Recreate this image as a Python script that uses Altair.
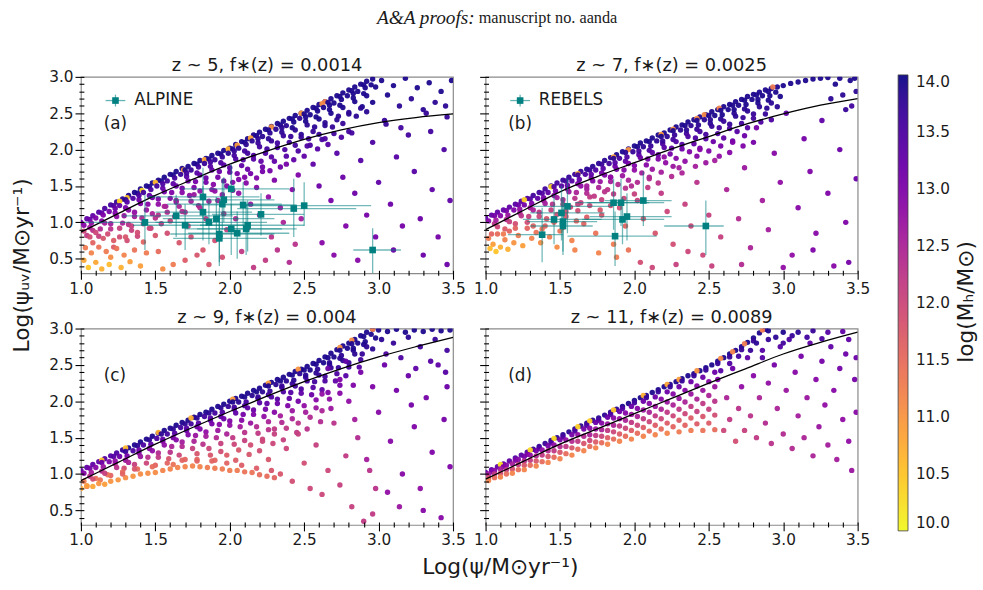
import altair as alt
import pandas as pd

FONT = "DejaVu Sans"
SERIF = "Liberation Serif"
TEAL = "#008080"

X_DOMAIN = [1.0, 3.5]
Y_DOMAIN = [0.3, 3.0]
X_TICKS = [round(1.0 + 0.1 * i, 1) for i in range(26)]
Y_TICKS = [round(0.4 + 0.1 * i, 1) for i in range(27)]
CBAR_TICKS = [10.0, 10.5, 11.0, 11.5, 12.0, 12.5, 13.0, 13.5, 14.0]

PANEL_TITLES = ["z ~ 5, f\u2217(z) = 0.0014", "z ~ 7, f\u2217(z) = 0.0025",
                "z ~ 9, f\u2217(z) = 0.004", "z ~ 11, f\u2217(z) = 0.0089"]
PANEL_LABELS = ["(a)", "(b)", "(c)", "(d)"]
X_TITLE = "Log(\u03c8/M\u2299yr\u207b\u00b9)"
Y_TITLE = "Log(\u03c8\u1d64\u1d65/M\u2299yr\u207b\u00b9)"
CBAR_TITLE = "log(M\u2095/M\u2299)"

# model relation (black curve) in each redshift bin
CURVE_X = [1.0, 1.25, 1.5, 1.75, 2.0, 2.25, 2.5, 2.75, 3.0, 3.25, 3.5]
CURVE_A = [0.865, 1.12, 1.37, 1.59, 1.80, 1.98, 2.14, 2.27, 2.37, 2.44, 2.49]
CURVE_B = [0.90, 1.16, 1.42, 1.63, 1.82, 2.01, 2.18, 2.35, 2.49, 2.61, 2.70]
CURVE_C = [0.91, 1.16, 1.41, 1.64, 1.86, 2.07, 2.27, 2.45, 2.61, 2.75, 2.88]
CURVE_D = [0.93, 1.17, 1.41, 1.62, 1.83, 2.04, 2.25, 2.45, 2.65, 2.81, 2.95]

# simulated galaxies: (log SFR, log SFR_UV, log Mh)
A_EDGE = [
    (1.00, 1.00, 13.2), (1.04, 1.05, 13.3), (1.08, 1.09, 13.3), (1.12, 1.14, 13.4), (1.16, 1.19, 13.5),
    (1.20, 1.24, 13.6), (1.24, 1.28, 13.7), (1.28, 1.32, 13.8), (1.32, 1.37, 13.9), (1.36, 1.41, 13.9),
    (1.40, 1.46, 13.9), (1.44, 1.50, 13.9), (1.48, 1.54, 13.9), (1.52, 1.58, 13.9), (1.56, 1.62, 13.9),
    (1.60, 1.66, 13.9), (1.64, 1.70, 13.9), (1.68, 1.74, 13.9), (1.72, 1.77, 13.9), (1.76, 1.81, 13.9),
    (1.80, 1.85, 13.9), (1.84, 1.88, 13.9), (1.88, 1.92, 13.9), (1.92, 1.95, 13.9), (1.96, 1.99, 13.9),
    (2.00, 2.02, 13.9), (2.04, 2.07, 13.9), (2.08, 2.11, 13.9), (2.12, 2.15, 13.9), (2.16, 2.20, 13.9),
    (2.20, 2.24, 13.9), (2.24, 2.28, 13.9), (2.28, 2.32, 13.9), (2.32, 2.36, 13.9), (2.36, 2.39, 13.9),
    (2.40, 2.43, 13.9), (2.44, 2.47, 13.9), (2.48, 2.50, 13.9), (2.52, 2.54, 13.9), (2.56, 2.58, 13.9),
    (2.60, 2.62, 13.9), (2.64, 2.66, 13.9), (2.68, 2.70, 13.9), (2.72, 2.74, 13.9), (2.76, 2.78, 13.9),
    (2.80, 2.82, 13.9), (2.84, 2.86, 13.9), (2.88, 2.90, 13.9), (2.92, 2.94, 13.9), (2.96, 2.97, 13.9),
    (1.26, 1.29, 10.4), (1.31, 1.34, 10.5), (1.41, 1.44, 10.3), (1.50, 1.55, 10.6), (1.69, 1.72, 10.9),
    (1.83, 1.86, 10.8), (1.99, 2.01, 10.7), (2.05, 2.06, 10.9), (2.14, 2.16, 10.8), (2.28, 2.31, 11.0),
    (2.48, 2.50, 10.9), (2.62, 2.63, 11.1), (2.64, 2.66, 11.2),
]
A_BAND = [
    (1.02, 0.96, 12.9), (1.10, 1.06, 13.0), (1.19, 1.15, 13.1), (1.26, 1.23, 13.3), (1.35, 1.33, 13.5),
    (1.42, 1.41, 13.6), (1.51, 1.50, 13.6), (1.58, 1.57, 13.6), (1.67, 1.66, 13.7), (1.74, 1.72, 13.7),
    (1.83, 1.81, 13.7), (1.90, 1.86, 13.7), (1.99, 1.95, 13.8), (2.06, 2.02, 13.8), (2.15, 2.12, 13.8),
    (2.22, 2.18, 13.8), (2.31, 2.28, 13.8), (2.38, 2.33, 13.8), (2.47, 2.43, 13.8), (2.54, 2.48, 13.9),
    (2.63, 2.58, 13.9), (2.70, 2.64, 13.9), (2.79, 2.74, 13.9), (2.86, 2.80, 13.9), (2.95, 2.89, 13.9),
    (1.06, 0.93, 12.6), (1.14, 1.02, 12.9), (1.23, 1.13, 13.0), (1.30, 1.20, 13.1), (1.39, 1.31, 13.2),
    (1.46, 1.37, 13.3), (1.55, 1.47, 13.3), (1.62, 1.53, 13.3), (1.71, 1.63, 13.4), (1.78, 1.68, 13.4),
    (1.87, 1.77, 13.4), (1.94, 1.82, 13.5), (2.03, 1.92, 13.6), (2.10, 1.98, 13.6), (2.19, 2.09, 13.7),
    (2.26, 2.15, 13.8), (2.35, 2.24, 13.8), (2.42, 2.30, 13.9), (2.51, 2.39, 13.9), (2.58, 2.45, 13.9),
    (2.67, 2.55, 13.9), (2.74, 2.61, 13.9), (2.83, 2.71, 13.9), (2.90, 2.77, 13.9), (2.98, 2.86, 13.9),
    (1.04, 0.82, 12.2), (1.13, 0.91, 12.4), (1.20, 0.98, 12.6), (1.29, 1.09, 12.7), (1.36, 1.14, 12.8),
    (1.45, 1.25, 12.9), (1.52, 1.32, 13.0), (1.61, 1.41, 13.0), (1.68, 1.47, 13.1), (1.77, 1.56, 13.1),
    (1.84, 1.61, 13.2), (1.93, 1.70, 13.2), (2.00, 1.75, 13.3), (2.09, 1.86, 13.4), (2.16, 1.92, 13.5),
    (2.25, 2.01, 13.6), (2.32, 2.09, 13.6), (2.41, 2.18, 13.7), (2.48, 2.21, 13.8), (2.57, 2.31, 13.8),
    (2.64, 2.37, 13.8), (2.73, 2.46, 13.8), (2.80, 2.51, 13.8), (2.89, 2.59, 13.9), (2.96, 2.65, 13.9),
    (1.32, 0.97, 12.3), (1.41, 1.06, 12.4), (1.48, 1.12, 12.5), (1.57, 1.22, 12.6), (1.64, 1.28, 12.7),
    (1.73, 1.37, 12.8), (1.80, 1.43, 12.8), (1.89, 1.52, 12.9), (1.96, 1.57, 13.0), (2.05, 1.67, 13.1),
    (2.12, 1.73, 13.2), (2.21, 1.84, 13.3), (2.28, 1.90, 13.4), (2.37, 2.00, 13.5), (2.44, 2.06, 13.6),
    (2.53, 2.15, 13.6), (2.60, 2.21, 13.7), (2.69, 2.31, 13.7), (2.76, 2.36, 13.7), (2.85, 2.46, 13.8),
    (2.92, 2.52, 13.8),
    (1.22, 0.66, 11.7), (1.31, 0.75, 11.9), (1.38, 0.81, 12.0), (1.47, 0.92, 12.1), (1.54, 0.98, 12.2),
    (1.63, 1.08, 12.3), (1.70, 1.14, 12.4), (1.79, 1.23, 12.5), (1.86, 1.29, 12.6), (1.95, 1.38, 12.7),
    (2.02, 1.44, 12.8), (2.11, 1.54, 12.9), (2.18, 1.61, 13.0), (2.27, 1.71, 13.1), (2.34, 1.76, 13.2),
    (2.43, 1.86, 13.3), (2.50, 1.91, 13.3), (2.59, 2.01, 13.4), (2.66, 2.07, 13.4), (2.75, 2.17, 13.5),
    (2.82, 2.23, 13.6),
]
A_FILL = [
    (1.06, 1.04, 13.2), (1.14, 1.13, 13.3), (1.22, 1.23, 13.5), (1.30, 1.31, 13.8), (1.38, 1.40, 13.9),
    (1.46, 1.49, 13.9), (1.54, 1.57, 13.9), (1.62, 1.65, 13.9), (1.70, 1.72, 13.9), (1.78, 1.80, 13.9),
    (1.86, 1.87, 13.9), (1.94, 1.94, 13.9), (2.02, 2.01, 13.9), (2.10, 2.10, 13.9), (2.18, 2.19, 13.9),
    (2.26, 2.27, 13.9), (2.34, 2.34, 13.9), (2.42, 2.42, 13.9), (2.50, 2.49, 13.9), (2.58, 2.57, 13.9),
    (2.66, 2.65, 13.9), (2.74, 2.73, 13.9), (2.82, 2.81, 13.9), (2.90, 2.89, 13.9),
    (1.07, 0.99, 12.8), (1.15, 1.10, 13.0), (1.23, 1.19, 13.2), (1.31, 1.28, 13.4), (1.39, 1.37, 13.5),
    (1.47, 1.45, 13.5), (1.55, 1.53, 13.5), (1.63, 1.61, 13.6), (1.71, 1.68, 13.6), (1.79, 1.76, 13.6),
    (1.87, 1.83, 13.6), (1.95, 1.90, 13.7), (2.03, 1.98, 13.7), (2.11, 2.07, 13.8), (2.19, 2.15, 13.8),
    (2.27, 2.23, 13.8), (2.35, 2.30, 13.8), (2.43, 2.38, 13.9), (2.51, 2.45, 13.9), (2.59, 2.53, 13.9),
    (2.67, 2.61, 13.9), (2.75, 2.69, 13.9), (2.83, 2.77, 13.9), (2.91, 2.85, 13.9),
    (1.08, 0.89, 12.3), (1.16, 0.99, 12.6), (1.24, 1.08, 12.8), (1.32, 1.17, 12.9), (1.40, 1.26, 13.0),
    (1.48, 1.34, 13.1), (1.56, 1.42, 13.1), (1.64, 1.50, 13.2), (1.72, 1.57, 13.2), (1.80, 1.65, 13.3),
    (1.88, 1.72, 13.3), (1.96, 1.79, 13.4), (2.04, 1.87, 13.5), (2.12, 1.95, 13.6), (2.20, 2.04, 13.6),
    (2.28, 2.12, 13.7), (2.36, 2.19, 13.7), (2.44, 2.27, 13.8), (2.52, 2.34, 13.8), (2.60, 2.42, 13.9),
    (2.68, 2.50, 13.9), (2.76, 2.58, 13.9), (2.84, 2.66, 13.9), (2.92, 2.74, 13.9),
    (1.12, 0.81, 12.1), (1.20, 0.91, 12.3), (1.28, 0.99, 12.5), (1.36, 1.08, 12.6), (1.44, 1.17, 12.7),
    (1.52, 1.25, 12.8), (1.60, 1.33, 12.9), (1.68, 1.41, 12.9), (1.76, 1.48, 13.0), (1.84, 1.55, 13.1),
    (1.92, 1.62, 13.1), (2.00, 1.69, 13.2), (2.08, 1.78, 13.3), (2.16, 1.87, 13.4), (2.24, 1.95, 13.5),
    (2.32, 2.03, 13.6), (2.40, 2.10, 13.6), (2.48, 2.17, 13.7), (2.56, 2.25, 13.7), (2.64, 2.33, 13.8),
    (2.72, 2.41, 13.8), (2.80, 2.49, 13.8), (2.88, 2.57, 13.8),
    (1.26, 0.80, 11.9), (1.34, 0.89, 12.1), (1.42, 0.98, 12.2), (1.50, 1.06, 12.3), (1.58, 1.14, 12.4),
    (1.66, 1.22, 12.5), (1.74, 1.29, 12.6), (1.82, 1.36, 12.7), (1.90, 1.43, 12.8), (1.98, 1.50, 12.9),
    (2.06, 1.59, 13.0), (2.14, 1.67, 13.1), (2.22, 1.76, 13.2), (2.30, 1.84, 13.3), (2.38, 1.91, 13.4),
    (2.46, 1.98, 13.5), (2.54, 2.06, 13.5), (2.62, 2.14, 13.6), (2.70, 2.22, 13.6),
]
A_SPREAD = [
    (1.02, 0.88, 12.0), (1.06, 0.80, 11.9), (1.10, 0.86, 12.0), (1.15, 0.78, 11.8), (1.08, 0.72, 11.6),
    (1.18, 0.84, 11.9), (1.22, 0.75, 11.7), (1.26, 0.92, 12.1), (1.30, 0.80, 11.8), (1.34, 0.95, 12.1),
    (1.38, 0.86, 11.9), (1.42, 0.73, 11.6), (1.46, 0.92, 12.0), (1.50, 0.82, 11.8),
    (1.03, 0.65, 11.3), (1.07, 0.58, 11.2), (1.12, 0.66, 11.4), (1.17, 0.60, 11.3), (1.24, 0.64, 11.4),
    (1.29, 0.55, 11.2), (1.36, 0.62, 11.4), (1.44, 0.58, 11.3), (1.52, 0.60, 11.5), (1.20, 0.52, 11.1),
    (1.02, 0.48, 10.8), (1.05, 0.38, 10.5), (1.10, 0.45, 10.8), (1.14, 0.36, 10.7), (1.19, 0.42, 10.6),
    (1.27, 0.38, 10.7), (1.33, 0.46, 10.9), (1.40, 0.40, 10.9), (1.55, 0.36, 11.1), (1.62, 0.42, 11.3),
    (1.52, 1.10, 12.3), (1.56, 1.22, 12.5), (1.60, 1.02, 12.1), (1.64, 1.30, 12.6), (1.68, 1.15, 12.4),
    (1.72, 0.95, 12.0), (1.76, 1.38, 12.7), (1.80, 1.20, 12.4), (1.84, 1.05, 12.2), (1.88, 1.45, 12.8),
    (1.92, 1.30, 12.6), (1.96, 1.12, 12.3), (1.58, 0.85, 11.9), (1.66, 0.72, 11.8), (1.74, 0.80, 11.9),
    (1.82, 0.62, 11.8), (1.90, 0.75, 11.9), (1.98, 0.90, 12.1), (1.70, 0.48, 11.7), (1.86, 0.42, 11.8),
    (1.78, 0.55, 11.8), (1.95, 0.52, 11.9),
    (2.02, 1.55, 12.9), (2.06, 1.40, 12.8), (2.10, 1.62, 13.0), (2.14, 1.25, 12.7), (2.18, 1.48, 12.9),
    (2.22, 1.70, 13.1), (2.26, 1.35, 12.8), (2.30, 1.58, 13.0), (2.34, 1.20, 12.7), (2.38, 1.80, 13.1),
    (2.42, 1.45, 12.9), (2.46, 1.65, 13.0), (2.04, 1.05, 12.4), (2.12, 0.92, 12.3), (2.20, 1.10, 12.5),
    (2.28, 0.80, 12.3), (2.36, 1.00, 12.5), (2.44, 0.70, 12.3), (2.08, 0.60, 12.2), (2.24, 0.48, 12.2),
    (2.40, 0.45, 12.4), (2.16, 0.38, 12.2), (2.32, 0.62, 12.3), (2.48, 1.05, 12.6),
    (2.52, 2.05, 13.5), (2.56, 1.80, 13.3), (2.60, 1.50, 13.2), (2.64, 2.15, 13.5), (2.68, 1.30, 13.1),
    (2.72, 1.95, 13.4), (2.76, 1.62, 13.2), (2.80, 2.25, 13.6), (2.84, 1.40, 13.2), (2.88, 1.85, 13.4),
    (2.92, 1.10, 13.1), (2.96, 2.10, 13.5), (3.00, 1.55, 13.3), (3.04, 2.40, 13.7), (3.08, 1.25, 13.2),
    (3.12, 1.90, 13.4), (3.16, 0.95, 13.1), (3.20, 2.20, 13.6), (3.24, 1.70, 13.4), (3.28, 1.05, 13.2),
    (3.32, 2.50, 13.7), (3.36, 1.45, 13.3), (3.40, 0.80, 13.1), (3.44, 2.00, 13.5), (3.48, 1.30, 13.3),
    (2.62, 0.72, 12.9), (2.70, 0.55, 12.9), (2.86, 0.48, 12.9), (2.98, 0.80, 13.1), (3.30, 0.55, 13.2),
    (3.46, 0.42, 13.2), (3.10, 0.62, 13.2), (2.78, 0.95, 13.0),
    (3.02, 2.95, 13.9), (3.06, 2.75, 13.9), (3.10, 2.88, 13.9), (3.14, 2.60, 13.8), (3.18, 2.98, 13.9),
    (3.22, 2.70, 13.8), (3.26, 2.85, 13.9), (3.30, 2.55, 13.8), (3.34, 2.92, 13.9), (3.38, 2.65, 13.8),
    (3.42, 2.80, 13.9), (3.46, 2.45, 13.7), (3.49, 2.95, 13.9), (3.05, 2.35, 13.7), (3.15, 2.30, 13.6),
    (3.35, 2.25, 13.6), (3.45, 2.60, 13.8),
]

B_EDGE = [
    (1.00, 1.06, 13.3), (1.04, 1.10, 13.3), (1.08, 1.14, 13.3), (1.12, 1.17, 13.3), (1.16, 1.21, 13.3),
    (1.20, 1.25, 13.4), (1.24, 1.29, 13.4), (1.28, 1.33, 13.5), (1.32, 1.37, 13.6), (1.36, 1.41, 13.6),
    (1.40, 1.46, 13.6), (1.44, 1.50, 13.6), (1.48, 1.54, 13.6), (1.52, 1.58, 13.7), (1.56, 1.62, 13.7),
    (1.60, 1.66, 13.7), (1.64, 1.70, 13.7), (1.68, 1.73, 13.8), (1.72, 1.77, 13.8), (1.76, 1.81, 13.8),
    (1.80, 1.85, 13.8), (1.84, 1.89, 13.8), (1.88, 1.93, 13.9), (1.92, 1.97, 13.9), (1.96, 2.01, 13.9),
    (2.00, 2.05, 13.9), (2.04, 2.09, 13.9), (2.08, 2.12, 13.9), (2.12, 2.16, 13.9), (2.16, 2.20, 13.9),
    (2.20, 2.23, 13.9), (2.24, 2.27, 13.9), (2.28, 2.31, 13.9), (2.32, 2.34, 13.9), (2.36, 2.38, 13.9),
    (2.40, 2.41, 13.9), (2.44, 2.45, 13.9), (2.48, 2.48, 13.9), (2.52, 2.52, 13.9), (2.56, 2.55, 13.9),
    (2.60, 2.59, 13.9), (2.64, 2.62, 13.9), (2.68, 2.66, 13.9), (2.72, 2.69, 13.9), (2.76, 2.73, 13.9),
    (2.80, 2.76, 13.9), (2.84, 2.79, 13.9), (2.88, 2.82, 13.9), (2.92, 2.84, 13.9), (2.96, 2.86, 13.9),
    (3.00, 2.88, 13.9), (3.05, 2.91, 13.9), (3.10, 2.93, 13.9), (3.15, 2.95, 13.9), (3.20, 2.97, 13.9),
    (3.25, 2.98, 13.9), (3.30, 2.99, 13.9),
    (1.26, 1.31, 10.4), (1.44, 1.49, 10.3), (1.62, 1.67, 10.6), (1.86, 1.90, 10.8), (1.96, 2.00, 11.0),
    (2.18, 2.21, 10.9), (2.26, 2.28, 11.0), (2.42, 2.43, 11.1), (2.47, 2.48, 11.1), (2.57, 2.57, 11.2),
    (2.93, 2.86, 11.3),
]
B_BAND = [
    (1.02, 1.02, 12.9), (1.10, 1.09, 12.9), (1.19, 1.17, 13.0), (1.26, 1.24, 13.1), (1.35, 1.33, 13.3),
    (1.42, 1.41, 13.3), (1.51, 1.50, 13.4), (1.58, 1.57, 13.4), (1.67, 1.66, 13.5), (1.74, 1.72, 13.5),
    (1.83, 1.81, 13.6), (1.90, 1.88, 13.6), (1.99, 1.97, 13.7), (2.06, 2.04, 13.8), (2.15, 2.12, 13.8),
    (2.22, 2.18, 13.8), (2.31, 2.27, 13.8), (2.38, 2.33, 13.8), (2.47, 2.41, 13.8), (2.54, 2.47, 13.9),
    (2.63, 2.55, 13.9), (2.70, 2.61, 13.9), (2.79, 2.69, 13.9), (2.86, 2.74, 13.9), (2.95, 2.79, 13.9),
    (1.06, 0.98, 12.3), (1.14, 1.04, 12.4), (1.23, 1.13, 12.5), (1.30, 1.20, 12.7), (1.39, 1.30, 12.8),
    (1.46, 1.37, 12.8), (1.55, 1.46, 12.9), (1.62, 1.53, 13.0), (1.71, 1.61, 13.1), (1.78, 1.68, 13.1),
    (1.87, 1.77, 13.2), (1.94, 1.84, 13.3), (2.03, 1.93, 13.4), (2.10, 1.99, 13.5), (2.19, 2.08, 13.5),
    (2.26, 2.14, 13.6), (2.35, 2.22, 13.6), (2.42, 2.28, 13.7), (2.51, 2.36, 13.8), (2.58, 2.42, 13.8),
    (2.67, 2.50, 13.8), (2.74, 2.56, 13.8), (2.83, 2.64, 13.9), (2.90, 2.68, 13.9), (2.98, 2.73, 13.9),
    (1.04, 0.84, 11.6), (1.13, 0.91, 11.7), (1.20, 0.98, 11.9), (1.29, 1.08, 12.1), (1.36, 1.14, 12.2),
    (1.45, 1.25, 12.3), (1.52, 1.31, 12.4), (1.61, 1.41, 12.5), (1.68, 1.46, 12.6), (1.77, 1.56, 12.7),
    (1.84, 1.62, 12.8), (1.93, 1.72, 12.9), (2.00, 1.78, 13.0), (2.09, 1.87, 13.1), (2.16, 1.93, 13.2),
    (2.25, 2.02, 13.3), (2.32, 2.07, 13.4), (2.41, 2.16, 13.5), (2.48, 2.21, 13.6), (2.57, 2.30, 13.6),
    (2.64, 2.35, 13.7), (2.73, 2.44, 13.7), (2.80, 2.49, 13.7), (2.89, 2.57, 13.8), (2.96, 2.59, 13.8),
    (1.32, 0.95, 11.6), (1.41, 1.05, 11.8), (1.48, 1.11, 11.9), (1.57, 1.21, 12.0), (1.64, 1.27, 12.1),
    (1.73, 1.36, 12.2), (1.80, 1.42, 12.3), (1.89, 1.52, 12.4), (1.96, 1.58, 12.5), (2.05, 1.68, 12.6),
    (2.12, 1.73, 12.7), (2.21, 1.82, 12.8), (2.28, 1.88, 12.9), (2.37, 1.97, 13.0), (2.44, 2.02, 13.1),
    (2.53, 2.11, 13.2), (2.60, 2.16, 13.3), (2.69, 2.25, 13.4), (2.76, 2.30, 13.4), (2.85, 2.38, 13.5),
    (2.92, 2.41, 13.5),
    (1.52, 0.93, 11.5), (1.61, 1.02, 11.6), (1.68, 1.07, 11.7), (1.77, 1.17, 11.8), (1.84, 1.23, 11.9),
    (1.93, 1.33, 12.0), (2.00, 1.39, 12.1), (2.09, 1.48, 12.2), (2.16, 1.54, 12.3), (2.25, 1.63, 12.4),
    (2.32, 1.68, 12.5), (2.41, 1.77, 12.6), (2.48, 1.82, 12.7), (2.57, 1.91, 12.8), (2.64, 1.96, 12.9),
    (2.73, 2.05, 13.0), (2.80, 2.10, 13.1),
]
B_FILL = [
    (1.06, 1.09, 13.1), (1.14, 1.16, 13.1), (1.22, 1.24, 13.2), (1.30, 1.32, 13.4), (1.38, 1.40, 13.5),
    (1.46, 1.49, 13.5), (1.54, 1.57, 13.6), (1.62, 1.65, 13.6), (1.70, 1.72, 13.7), (1.78, 1.80, 13.7),
    (1.86, 1.88, 13.8), (1.94, 1.96, 13.8), (2.02, 2.04, 13.9), (2.10, 2.11, 13.9), (2.18, 2.18, 13.9),
    (2.26, 2.26, 13.9), (2.34, 2.33, 13.9), (2.42, 2.40, 13.9), (2.50, 2.47, 13.9), (2.58, 2.54, 13.9),
    (2.66, 2.61, 13.9), (2.74, 2.68, 13.9), (2.82, 2.75, 13.9), (2.90, 2.80, 13.9),
    (1.07, 1.03, 12.6), (1.15, 1.10, 12.7), (1.23, 1.18, 12.8), (1.31, 1.26, 13.0), (1.39, 1.34, 13.1),
    (1.47, 1.43, 13.1), (1.55, 1.51, 13.2), (1.63, 1.59, 13.3), (1.71, 1.66, 13.3), (1.79, 1.74, 13.4),
    (1.87, 1.82, 13.4), (1.95, 1.90, 13.5), (2.03, 1.98, 13.6), (2.11, 2.05, 13.7), (2.19, 2.12, 13.7),
    (2.27, 2.20, 13.7), (2.35, 2.27, 13.8), (2.43, 2.34, 13.8), (2.51, 2.41, 13.8), (2.59, 2.48, 13.9),
    (2.67, 2.55, 13.9), (2.75, 2.62, 13.9), (2.83, 2.69, 13.9), (2.91, 2.74, 13.9),
    (1.08, 0.94, 12.0), (1.16, 1.01, 12.1), (1.24, 1.09, 12.3), (1.32, 1.17, 12.5), (1.40, 1.26, 12.6),
    (1.48, 1.34, 12.6), (1.56, 1.42, 12.7), (1.64, 1.50, 12.8), (1.72, 1.57, 12.9), (1.80, 1.65, 13.0),
    (1.88, 1.73, 13.1), (1.96, 1.81, 13.1), (2.04, 1.89, 13.2), (2.12, 1.96, 13.3), (2.20, 2.03, 13.4),
    (2.28, 2.11, 13.5), (2.36, 2.18, 13.5), (2.44, 2.25, 13.6), (2.52, 2.32, 13.7), (2.60, 2.39, 13.7),
    (2.68, 2.46, 13.8), (2.76, 2.53, 13.8), (2.84, 2.59, 13.8), (2.92, 2.64, 13.8),
    (1.12, 0.84, 11.3), (1.20, 0.92, 11.6), (1.28, 1.00, 11.9), (1.36, 1.08, 12.0), (1.44, 1.17, 12.1),
    (1.52, 1.25, 12.2), (1.60, 1.33, 12.3), (1.68, 1.40, 12.4), (1.76, 1.48, 12.5), (1.84, 1.56, 12.6),
    (1.92, 1.64, 12.7), (2.00, 1.72, 12.8), (2.08, 1.79, 12.9), (2.16, 1.87, 13.0), (2.24, 1.94, 13.1),
    (2.32, 2.01, 13.2), (2.40, 2.08, 13.3), (2.48, 2.15, 13.4), (2.56, 2.22, 13.5), (2.64, 2.29, 13.5),
    (2.72, 2.36, 13.6), (2.80, 2.43, 13.6), (2.88, 2.49, 13.7),
    (1.38, 0.91, 11.4), (1.46, 1.00, 11.6), (1.54, 1.08, 11.8), (1.62, 1.16, 11.9), (1.70, 1.23, 12.0),
    (1.78, 1.31, 12.1), (1.86, 1.39, 12.2), (1.94, 1.47, 12.3), (2.02, 1.55, 12.4), (2.10, 1.62, 12.5),
    (2.18, 1.69, 12.6), (2.26, 1.77, 12.7), (2.34, 1.84, 12.8), (2.42, 1.91, 12.9), (2.50, 1.98, 13.0),
    (2.58, 2.05, 13.1), (2.66, 2.12, 13.2), (2.74, 2.19, 13.2),
]
B_SPREAD = [
    (1.02, 0.78, 11.3), (1.05, 0.70, 10.9), (1.08, 0.84, 11.5), (1.10, 0.66, 10.7), (1.13, 0.76, 11.2),
    (1.16, 0.88, 11.6), (1.19, 0.72, 11.0), (1.22, 0.82, 11.3), (1.25, 0.68, 10.9), (1.28, 0.92, 11.6),
    (1.31, 0.78, 11.2), (1.34, 0.86, 11.4), (1.37, 0.72, 11.1), (1.40, 0.95, 11.6), (1.43, 0.80, 11.3),
    (1.03, 0.64, 10.6), (1.07, 0.60, 10.5), (1.15, 0.63, 10.7),
    (1.46, 1.05, 11.8), (1.50, 0.88, 11.4), (1.54, 1.15, 11.9), (1.58, 0.75, 11.2), (1.62, 1.25, 12.1),
    (1.66, 0.98, 11.6), (1.70, 1.35, 12.2), (1.74, 0.85, 11.4), (1.78, 1.10, 11.8), (1.82, 1.45, 12.3),
    (1.86, 0.70, 11.3), (1.90, 1.20, 11.9), (1.94, 0.95, 11.6), (1.98, 1.50, 12.4), (1.48, 0.66, 11.1),
    (1.60, 0.62, 11.2), (1.76, 0.58, 11.2), (1.88, 0.52, 11.3), (1.96, 0.62, 11.4), (1.68, 1.50, 12.6),
    (1.84, 1.62, 12.8),
    (2.02, 1.30, 12.1), (2.06, 1.05, 11.8), (2.10, 1.60, 12.4), (2.14, 0.85, 11.8), (2.18, 1.40, 12.2),
    (2.22, 1.15, 12.0), (2.26, 0.70, 11.9), (2.30, 1.75, 12.6), (2.34, 1.25, 12.1), (2.38, 0.95, 12.0),
    (2.42, 1.55, 12.3), (2.46, 0.55, 12.0), (2.50, 1.10, 12.1), (2.54, 1.85, 12.6), (2.58, 0.80, 12.1),
    (2.04, 0.45, 11.9), (2.12, 0.38, 12.0), (2.28, 0.42, 12.1), (2.36, 0.60, 12.0), (2.20, 1.90, 12.8),
    (2.44, 2.00, 12.9), (2.52, 0.40, 12.1),
    (2.62, 1.45, 12.5), (2.66, 2.10, 13.0), (2.70, 1.05, 12.4), (2.74, 1.75, 12.7), (2.78, 0.65, 12.5),
    (2.82, 2.30, 13.1), (2.86, 1.30, 12.6), (2.90, 0.90, 12.6), (2.94, 1.95, 12.9), (2.98, 1.55, 12.8),
    (3.02, 2.50, 13.3), (3.06, 0.55, 12.8), (3.10, 1.20, 12.9), (3.14, 2.15, 13.1), (3.18, 1.70, 13.0),
    (3.22, 0.85, 12.9), (3.26, 2.40, 13.3), (3.30, 1.40, 13.0), (3.34, 0.40, 12.9), (3.38, 2.00, 13.2),
    (3.42, 1.00, 13.0), (3.46, 2.60, 13.6), (3.49, 1.60, 13.2), (3.00, 0.38, 12.8), (3.20, 0.62, 13.0),
    (3.44, 0.45, 13.1), (2.72, 0.42, 12.4),
    (3.35, 2.90, 13.9), (3.40, 2.75, 13.8), (3.45, 2.95, 13.9), (3.49, 2.80, 13.8), (3.32, 2.70, 13.8),
    (3.42, 2.55, 13.7), (3.48, 2.98, 13.9), (3.38, 2.98, 13.9),
]

C_EDGE = [
    (1.00, 1.05, 13.3), (1.04, 1.09, 13.3), (1.08, 1.13, 13.3), (1.12, 1.17, 13.3), (1.16, 1.21, 13.4),
    (1.20, 1.25, 13.4), (1.24, 1.29, 13.5), (1.28, 1.33, 13.7), (1.32, 1.36, 13.9), (1.36, 1.40, 13.9),
    (1.40, 1.44, 13.9), (1.44, 1.48, 13.9), (1.48, 1.52, 13.9), (1.52, 1.56, 13.9), (1.56, 1.60, 13.9),
    (1.60, 1.63, 13.9), (1.64, 1.67, 13.9), (1.68, 1.71, 13.9), (1.72, 1.74, 13.9), (1.76, 1.78, 13.9),
    (1.80, 1.82, 13.9), (1.84, 1.85, 13.9), (1.88, 1.89, 13.9), (1.92, 1.93, 13.9), (1.96, 1.96, 13.9),
    (2.00, 2.00, 13.9), (2.04, 2.04, 13.9), (2.08, 2.07, 13.9), (2.12, 2.11, 13.9), (2.16, 2.15, 13.9),
    (2.20, 2.18, 13.9), (2.24, 2.22, 13.9), (2.28, 2.26, 13.9), (2.32, 2.30, 13.9), (2.36, 2.33, 13.9),
    (2.40, 2.37, 13.9), (2.44, 2.41, 13.9), (2.48, 2.44, 13.9), (2.52, 2.48, 13.9), (2.56, 2.52, 13.9),
    (2.60, 2.56, 13.9), (2.64, 2.61, 13.9), (2.68, 2.66, 13.9), (2.72, 2.71, 13.9), (2.76, 2.76, 13.9),
    (2.80, 2.80, 13.9), (2.84, 2.85, 13.9), (2.88, 2.90, 13.9), (2.92, 2.95, 13.9), (2.96, 2.99, 13.9),
    (3.00, 2.98, 13.9), (3.06, 2.96, 13.9), (3.12, 2.99, 13.9), (3.18, 2.95, 13.9), (3.24, 2.98, 13.9),
    (3.30, 2.96, 13.9), (3.36, 2.99, 13.9), (3.42, 2.97, 13.9), (3.48, 2.98, 13.9),
    (3.02, 2.85, 13.8), (3.10, 2.80, 13.7), (3.20, 2.88, 13.8), (3.28, 2.75, 13.6), (3.38, 2.85, 13.7),
    (3.46, 2.70, 13.6), (3.05, 2.65, 13.5), (3.15, 2.60, 13.5), (3.35, 2.55, 13.4), (3.45, 2.40, 13.4),
    (3.25, 2.45, 13.3),
    (1.14, 1.19, 10.5), (1.30, 1.36, 10.6), (1.52, 1.57, 10.7), (1.74, 1.77, 10.7), (2.02, 2.03, 10.9),
    (2.26, 2.25, 10.9), (2.46, 2.44, 11.0), (2.74, 2.74, 11.0), (2.82, 2.84, 11.1), (2.96, 2.99, 11.2),
]
C_BAND = [
    (1.02, 1.01, 12.9), (1.10, 1.09, 12.9), (1.19, 1.17, 13.0), (1.26, 1.24, 13.2), (1.35, 1.32, 13.5),
    (1.42, 1.40, 13.5), (1.51, 1.49, 13.5), (1.58, 1.55, 13.6), (1.67, 1.64, 13.6), (1.74, 1.69, 13.6),
    (1.83, 1.79, 13.6), (1.90, 1.84, 13.6), (1.99, 1.93, 13.7), (2.06, 1.99, 13.8), (2.15, 2.08, 13.8),
    (2.22, 2.13, 13.8), (2.31, 2.23, 13.8), (2.38, 2.28, 13.8), (2.47, 2.38, 13.8), (2.54, 2.43, 13.9),
    (2.63, 2.53, 13.9), (2.70, 2.61, 13.9), (2.79, 2.73, 13.9), (2.86, 2.80, 13.9), (2.95, 2.92, 13.9),
    (1.06, 0.97, 12.3), (1.14, 1.04, 12.4), (1.23, 1.14, 12.5), (1.30, 1.19, 12.7), (1.39, 1.29, 12.9),
    (1.46, 1.35, 12.9), (1.55, 1.45, 13.0), (1.62, 1.50, 13.1), (1.71, 1.60, 13.2), (1.78, 1.65, 13.2),
    (1.87, 1.74, 13.3), (1.94, 1.79, 13.3), (2.03, 1.89, 13.4), (2.10, 1.94, 13.5), (2.19, 2.04, 13.5),
    (2.26, 2.09, 13.6), (2.35, 2.19, 13.6), (2.42, 2.24, 13.7), (2.51, 2.33, 13.7), (2.58, 2.39, 13.8),
    (2.67, 2.51, 13.8), (2.74, 2.59, 13.8), (2.83, 2.70, 13.8), (2.90, 2.78, 13.9), (2.98, 2.87, 13.9),
    (1.04, 0.83, 11.2), (1.13, 0.92, 11.4), (1.20, 0.98, 11.6), (1.29, 1.08, 11.9), (1.36, 1.13, 12.1),
    (1.45, 1.23, 12.3), (1.52, 1.29, 12.4), (1.61, 1.38, 12.5), (1.68, 1.44, 12.6), (1.77, 1.53, 12.7),
    (1.84, 1.58, 12.8), (1.93, 1.68, 12.9), (2.00, 1.73, 13.0), (2.09, 1.82, 13.1), (2.16, 1.88, 13.2),
    (2.25, 1.97, 13.3), (2.32, 2.03, 13.4), (2.41, 2.12, 13.4), (2.48, 2.17, 13.5), (2.57, 2.27, 13.6),
    (2.64, 2.34, 13.6), (2.73, 2.46, 13.7), (2.80, 2.53, 13.7), (2.89, 2.65, 13.7), (2.96, 2.72, 13.8),
    (1.50, 1.12, 11.6), (1.59, 1.21, 11.8), (1.66, 1.26, 12.0), (1.75, 1.35, 12.1), (1.82, 1.41, 12.3),
    (1.91, 1.50, 12.4), (1.98, 1.55, 12.5), (2.07, 1.65, 12.6), (2.14, 1.70, 12.7), (2.23, 1.79, 12.8),
    (2.30, 1.85, 12.9), (2.39, 1.94, 13.0), (2.46, 2.00, 13.1), (2.55, 2.09, 13.2), (2.62, 2.16, 13.3),
    (2.71, 2.28, 13.3), (2.78, 2.35, 13.4), (2.87, 2.47, 13.4),
    (1.78, 1.18, 11.6), (1.87, 1.26, 11.8), (1.94, 1.31, 11.9), (2.03, 1.41, 12.0), (2.10, 1.46, 12.1),
    (2.19, 1.56, 12.2), (2.26, 1.61, 12.3), (2.35, 1.71, 12.4), (2.42, 1.76, 12.5), (2.51, 1.85, 12.6),
    (2.58, 1.91, 12.7), (2.67, 2.03, 12.8), (2.74, 2.11, 12.9), (2.83, 2.22, 13.0),
    (2.04, 1.19, 11.7), (2.13, 1.27, 11.8), (2.20, 1.32, 11.9), (2.29, 1.42, 12.0), (2.36, 1.47, 12.1),
    (2.45, 1.57, 12.2), (2.52, 1.62, 12.3), (2.61, 1.72, 12.4),
    (1.00, 0.80, 10.8), (1.04, 0.84, 10.9), (1.08, 0.83, 10.8), (1.12, 0.87, 11.0), (1.16, 0.86, 10.9),
    (1.20, 0.90, 11.0), (1.25, 0.92, 11.0), (1.30, 0.95, 11.1), (1.35, 0.97, 11.0), (1.40, 1.00, 11.1),
    (1.45, 1.01, 11.1), (1.50, 1.02, 11.1), (1.55, 1.05, 11.2), (1.60, 1.07, 11.2), (1.65, 1.09, 11.2),
    (1.70, 1.10, 11.2), (1.75, 1.11, 11.2), (1.80, 1.10, 11.2), (1.85, 1.09, 11.3), (1.90, 1.08, 11.3),
    (1.95, 1.07, 11.3), (2.00, 1.05, 11.3), (2.05, 1.05, 11.3), (2.10, 1.03, 11.4), (2.15, 1.02, 11.4),
    (2.20, 0.99, 11.5), (2.25, 0.97, 11.5), (2.30, 0.95, 11.6),
    (1.02, 0.90, 11.3), (1.10, 0.94, 11.4), (1.18, 0.99, 11.4), (1.28, 1.03, 11.5), (1.38, 1.07, 11.5),
    (1.48, 1.10, 11.5), (1.58, 1.15, 11.6), (1.68, 1.19, 11.6), (1.78, 1.20, 11.6), (1.88, 1.18, 11.6),
    (1.98, 1.15, 11.6), (2.08, 1.12, 11.7), (2.18, 1.08, 11.7), (2.28, 1.05, 11.8),
]
C_FILL = [
    (1.06, 1.08, 13.1), (1.14, 1.16, 13.2), (1.22, 1.24, 13.4), (1.30, 1.31, 13.7), (1.38, 1.39, 13.8),
    (1.46, 1.47, 13.8), (1.54, 1.55, 13.8), (1.62, 1.62, 13.8), (1.70, 1.69, 13.8), (1.78, 1.77, 13.8),
    (1.86, 1.84, 13.8), (1.94, 1.91, 13.8), (2.02, 1.99, 13.9), (2.10, 2.06, 13.9), (2.18, 2.13, 13.9),
    (2.26, 2.21, 13.9), (2.34, 2.28, 13.9), (2.42, 2.36, 13.9), (2.50, 2.43, 13.9), (2.58, 2.51, 13.9),
    (2.66, 2.60, 13.9), (2.74, 2.70, 13.9), (2.82, 2.79, 13.9), (2.90, 2.89, 13.9),
    (1.07, 1.02, 12.6), (1.15, 1.10, 12.7), (1.23, 1.18, 12.8), (1.31, 1.25, 13.1), (1.39, 1.33, 13.2),
    (1.47, 1.41, 13.3), (1.55, 1.48, 13.3), (1.63, 1.56, 13.4), (1.71, 1.63, 13.4), (1.79, 1.70, 13.4),
    (1.87, 1.77, 13.4), (1.95, 1.85, 13.5), (2.03, 1.92, 13.6), (2.11, 1.99, 13.6), (2.19, 2.06, 13.7),
    (2.27, 2.14, 13.7), (2.35, 2.21, 13.7), (2.43, 2.29, 13.8), (2.51, 2.36, 13.8), (2.59, 2.44, 13.8),
    (2.67, 2.53, 13.8), (2.75, 2.63, 13.8), (2.83, 2.73, 13.9), (2.91, 2.82, 13.9),
    (1.08, 0.93, 11.9), (1.16, 1.01, 12.1), (1.24, 1.09, 12.3), (1.32, 1.16, 12.5), (1.40, 1.24, 12.7),
    (1.48, 1.32, 12.8), (1.56, 1.40, 12.8), (1.64, 1.47, 12.9), (1.72, 1.54, 13.0), (1.80, 1.62, 13.0),
    (1.88, 1.69, 13.1), (1.96, 1.76, 13.2), (2.04, 1.84, 13.3), (2.12, 1.91, 13.3), (2.20, 1.98, 13.4),
    (2.28, 2.06, 13.5), (2.36, 2.13, 13.5), (2.44, 2.21, 13.6), (2.52, 2.28, 13.6), (2.60, 2.36, 13.7),
    (2.68, 2.46, 13.7), (2.76, 2.56, 13.8), (2.84, 2.65, 13.8), (2.92, 2.75, 13.8),
    (1.28, 1.00, 11.6), (1.36, 1.07, 11.8), (1.44, 1.15, 12.0), (1.52, 1.23, 12.2), (1.60, 1.30, 12.3),
    (1.68, 1.38, 12.4), (1.76, 1.45, 12.5), (1.84, 1.52, 12.6), (1.92, 1.60, 12.7), (2.00, 1.67, 12.8),
    (2.08, 1.74, 12.9), (2.16, 1.82, 13.0), (2.24, 1.89, 13.1), (2.32, 1.97, 13.2), (2.40, 2.04, 13.3),
    (2.48, 2.11, 13.3), (2.56, 2.19, 13.4), (2.64, 2.28, 13.5), (2.72, 2.38, 13.5), (2.80, 2.47, 13.6),
    (2.88, 2.57, 13.6),
    (1.62, 1.13, 11.4), (1.70, 1.20, 11.6), (1.78, 1.28, 11.8), (1.86, 1.35, 12.0), (1.94, 1.42, 12.1),
    (2.02, 1.50, 12.2), (2.10, 1.57, 12.3), (2.18, 1.65, 12.4), (2.26, 1.72, 12.5), (2.34, 1.80, 12.6),
    (2.42, 1.87, 12.7), (2.50, 1.94, 12.8), (2.58, 2.02, 12.9), (2.66, 2.12, 13.0), (2.74, 2.22, 13.1),
    (1.90, 1.19, 11.6), (1.98, 1.26, 11.7), (2.06, 1.33, 11.8), (2.14, 1.40, 11.9), (2.22, 1.48, 12.0),
    (2.30, 1.55, 12.1), (2.38, 1.63, 12.2), (2.46, 1.70, 12.3), (2.54, 1.78, 12.4), (2.62, 1.87, 12.5),
]
C_SPREAD = [
    (2.22, 1.45, 12.0), (2.26, 1.20, 11.8), (2.30, 1.62, 12.2), (2.34, 1.00, 11.8), (2.38, 1.35, 12.0),
    (2.42, 0.90, 11.9), (2.46, 1.55, 12.1), (2.50, 1.15, 11.9), (2.54, 0.80, 12.0), (2.58, 1.40, 12.1),
    (2.62, 0.72, 12.0), (2.66, 1.05, 12.0), (2.70, 1.70, 12.3), (2.74, 0.85, 12.1), (2.78, 1.25, 12.2),
    (2.82, 0.55, 12.1), (2.86, 1.50, 12.4), (2.90, 0.35, 12.2), (2.94, 1.05, 12.3), (2.98, 0.80, 12.3),
    (2.96, 0.45, 12.2), (2.62, 2.10, 12.8), (2.68, 1.90, 12.7), (2.74, 2.30, 13.0), (2.80, 2.00, 12.8),
    (2.84, 1.75, 12.6), (2.88, 2.40, 13.1), (2.92, 1.20, 12.6), (2.96, 2.20, 13.0), (3.00, 1.85, 12.9),
    (3.04, 2.50, 13.2), (3.08, 1.45, 12.9), (3.12, 2.15, 13.1), (3.16, 1.00, 12.9), (3.20, 2.35, 13.2),
    (3.24, 1.65, 13.0), (3.28, 0.80, 12.8), (3.32, 2.05, 13.1), (3.36, 1.30, 13.0), (3.40, 2.50, 13.3),
    (3.44, 1.75, 13.1), (3.48, 1.10, 13.0), (3.30, 0.50, 12.9), (3.42, 0.40, 12.9), (3.14, 0.55, 12.7),
    (3.06, 0.75, 12.8), (3.46, 2.20, 13.2), (3.22, 1.95, 13.1), (2.66, 2.45, 13.2), (2.78, 2.55, 13.3),
]

D_EDGE = [
    (1.00, 1.02, 13.3), (1.04, 1.06, 13.3), (1.08, 1.10, 13.3), (1.12, 1.14, 13.3), (1.16, 1.18, 13.3),
    (1.20, 1.22, 13.4), (1.24, 1.26, 13.4), (1.28, 1.30, 13.5), (1.32, 1.34, 13.7), (1.36, 1.38, 13.7),
    (1.40, 1.42, 13.7), (1.44, 1.46, 13.8), (1.48, 1.50, 13.8), (1.52, 1.54, 13.8), (1.56, 1.58, 13.8),
    (1.60, 1.62, 13.8), (1.64, 1.66, 13.8), (1.68, 1.70, 13.8), (1.72, 1.74, 13.8), (1.76, 1.77, 13.8),
    (1.80, 1.81, 13.8), (1.84, 1.85, 13.8), (1.88, 1.89, 13.8), (1.92, 1.93, 13.9), (1.96, 1.97, 13.9),
    (2.00, 2.01, 13.9), (2.04, 2.05, 13.9), (2.08, 2.08, 13.9), (2.12, 2.12, 13.9), (2.16, 2.16, 13.9),
    (2.20, 2.20, 13.9), (2.24, 2.23, 13.9), (2.28, 2.27, 13.9), (2.32, 2.31, 13.9), (2.36, 2.35, 13.9),
    (2.40, 2.38, 13.9), (2.44, 2.42, 13.9), (2.48, 2.46, 13.9), (2.52, 2.50, 13.9), (2.56, 2.55, 13.9),
    (2.60, 2.60, 13.9), (2.64, 2.65, 13.9), (2.68, 2.70, 13.9), (2.72, 2.75, 13.9), (2.76, 2.81, 13.9),
    (2.80, 2.87, 13.9), (2.84, 2.94, 13.9), (2.88, 2.99, 13.9),
    (1.10, 1.13, 10.2), (1.30, 1.33, 10.3), (1.46, 1.49, 10.3), (1.62, 1.65, 10.4), (1.70, 1.73, 10.4),
    (1.86, 1.88, 10.5), (2.06, 2.08, 10.7), (2.22, 2.23, 10.8), (2.30, 2.30, 10.9), (2.42, 2.42, 11.0),
    (2.58, 2.59, 11.1), (2.66, 2.68, 11.2), (2.74, 2.79, 11.3), (2.86, 2.98, 11.3),
    (1.04, 1.03, 13.0), (1.12, 1.10, 13.0), (1.20, 1.19, 13.0), (1.28, 1.27, 13.0), (1.36, 1.35, 13.5),
    (1.44, 1.43, 13.5), (1.52, 1.51, 13.5), (1.60, 1.59, 13.5), (1.68, 1.67, 13.5), (1.76, 1.74, 13.5),
    (1.84, 1.82, 13.5), (1.92, 1.90, 13.5), (2.00, 1.98, 13.6), (2.08, 2.05, 13.7), (2.16, 2.13, 13.7),
    (2.24, 2.20, 13.7), (2.32, 2.28, 13.7), (2.40, 2.35, 13.7), (2.48, 2.43, 13.7), (2.56, 2.52, 13.7),
    (2.64, 2.61, 13.7), (2.72, 2.71, 13.7), (2.80, 2.83, 13.7),
]
D_BAND = [
    (1.02, 1.00, 12.6), (1.02, 0.95, 11.9), (1.02, 0.91, 11.2),
    (1.10, 1.07, 12.6), (1.10, 1.01, 11.9), (1.10, 0.96, 11.2),
    (1.18, 1.14, 12.6), (1.18, 1.07, 11.9), (1.18, 1.01, 11.2),
    (1.26, 1.24, 13.1), (1.26, 1.18, 12.4), (1.26, 1.12, 11.8), (1.26, 1.06, 11.2),
    (1.34, 1.32, 13.1), (1.34, 1.25, 12.4), (1.34, 1.18, 11.8), (1.34, 1.11, 11.2),
    (1.42, 1.39, 13.1), (1.42, 1.32, 12.4), (1.42, 1.24, 11.8), (1.42, 1.16, 11.2),
    (1.50, 1.47, 13.1), (1.50, 1.38, 12.4), (1.50, 1.30, 11.8), (1.50, 1.21, 11.2),
    (1.58, 1.54, 13.1), (1.58, 1.45, 12.4), (1.58, 1.36, 11.8), (1.58, 1.26, 11.2),
    (1.66, 1.62, 13.1), (1.66, 1.52, 12.4), (1.66, 1.42, 11.8), (1.66, 1.32, 11.2),
    (1.74, 1.71, 13.2), (1.74, 1.62, 12.7), (1.74, 1.53, 12.2), (1.74, 1.44, 11.7), (1.74, 1.36, 11.2),
    (1.82, 1.78, 13.2), (1.82, 1.69, 12.7), (1.82, 1.60, 12.2), (1.82, 1.50, 11.7), (1.82, 1.41, 11.2),
    (1.90, 1.86, 13.2), (1.90, 1.76, 12.7), (1.90, 1.66, 12.2), (1.90, 1.55, 11.7), (1.90, 1.45, 11.2),
    (1.98, 1.93, 13.2), (1.98, 1.82, 12.7), (1.98, 1.71, 12.2), (1.98, 1.60, 11.7), (1.98, 1.48, 11.2),
    (2.06, 2.00, 13.2), (2.06, 1.88, 12.7), (2.06, 1.76, 12.2), (2.06, 1.64, 11.7), (2.06, 1.52, 11.2),
    (2.14, 2.06, 13.2), (2.14, 1.93, 12.7), (2.14, 1.80, 12.2), (2.14, 1.67, 11.7), (2.14, 1.54, 11.2),
    (2.22, 2.13, 13.2), (2.22, 1.99, 12.7), (2.22, 1.85, 12.2), (2.22, 1.70, 11.7), (2.22, 1.56, 11.2),
    (2.30, 2.20, 13.2), (2.30, 2.04, 12.7), (2.30, 1.89, 12.2), (2.30, 1.74, 11.7), (2.30, 1.58, 11.3),
    (2.38, 2.27, 13.2), (2.38, 2.10, 12.7), (2.38, 1.93, 12.2), (2.38, 1.77, 11.7), (2.38, 1.60, 11.3),
    (2.46, 2.33, 13.2), (2.46, 2.15, 12.7), (2.46, 1.97, 12.2), (2.46, 1.79, 11.8), (2.46, 1.60, 11.4),
    (2.54, 2.40, 13.2), (2.54, 2.20, 12.7), (2.54, 2.00, 12.3), (2.54, 1.81, 11.9), (2.54, 1.61, 11.5),
    (1.06, 1.05, 12.9), (1.06, 1.00, 12.2), (1.06, 0.95, 11.5),
    (1.14, 1.12, 12.9), (1.14, 1.06, 12.2), (1.14, 1.00, 11.5),
    (1.22, 1.20, 12.9), (1.22, 1.13, 12.2), (1.22, 1.06, 11.5),
    (1.30, 1.26, 12.8), (1.30, 1.19, 12.2), (1.30, 1.12, 11.5),
    (1.38, 1.33, 12.8), (1.38, 1.26, 12.2), (1.38, 1.17, 11.5),
    (1.46, 1.40, 12.8), (1.46, 1.32, 12.2), (1.46, 1.23, 11.5),
    (1.54, 1.47, 12.8), (1.54, 1.38, 12.2), (1.54, 1.28, 11.5),
    (1.62, 1.54, 12.8), (1.62, 1.45, 12.2), (1.62, 1.34, 11.5),
    (1.70, 1.63, 12.9), (1.70, 1.54, 12.5), (1.70, 1.46, 12.0), (1.70, 1.38, 11.5),
    (1.78, 1.70, 12.9), (1.78, 1.61, 12.5), (1.78, 1.52, 12.0), (1.78, 1.43, 11.5),
    (1.86, 1.77, 12.9), (1.86, 1.67, 12.5), (1.86, 1.58, 12.0), (1.86, 1.48, 11.5),
    (1.94, 1.84, 12.9), (1.94, 1.74, 12.5), (1.94, 1.63, 12.0), (1.94, 1.52, 11.5),
    (2.02, 1.90, 12.9), (2.02, 1.79, 12.5), (2.02, 1.67, 12.0), (2.02, 1.56, 11.5),
    (2.10, 1.97, 12.9), (2.10, 1.85, 12.5), (2.10, 1.72, 12.0), (2.10, 1.59, 11.5),
    (2.18, 2.03, 12.9), (2.18, 1.89, 12.5), (2.18, 1.76, 12.0), (2.18, 1.62, 11.5),
    (2.26, 2.10, 12.9), (2.26, 1.95, 12.5), (2.26, 1.80, 12.0), (2.26, 1.65, 11.6),
    (2.34, 2.15, 12.9), (2.34, 1.99, 12.5), (2.34, 1.83, 12.0), (2.34, 1.67, 11.6),
    (2.42, 2.21, 12.9), (2.42, 2.03, 12.5), (2.42, 1.86, 12.1), (2.42, 1.69, 11.7),
    (2.50, 2.27, 12.9), (2.50, 2.08, 12.5), (2.50, 1.89, 12.1), (2.50, 1.70, 11.7),
]
D_SPREAD = [
    (2.56, 2.30, 13.0), (2.60, 1.60, 12.0), (2.62, 2.05, 12.5), (2.64, 1.75, 12.2), (2.66, 2.45, 13.2),
    (2.68, 1.45, 11.9), (2.70, 1.90, 12.3), (2.72, 2.20, 12.8), (2.74, 1.60, 12.1), (2.76, 2.60, 13.3),
    (2.78, 1.80, 12.3), (2.80, 2.35, 12.9), (2.82, 1.50, 12.2), (2.84, 2.05, 12.5), (2.86, 2.70, 13.4),
    (2.88, 1.70, 12.4), (2.90, 2.25, 12.8), (2.92, 1.42, 12.3), (2.94, 2.50, 13.1), (2.96, 1.90, 12.5),
    (2.98, 2.75, 13.4), (3.00, 1.55, 12.4), (3.02, 2.15, 12.7), (3.04, 2.85, 13.5), (3.06, 1.35, 12.4),
    (3.08, 2.40, 12.9), (3.10, 1.80, 12.6), (3.12, 2.62, 13.1), (3.14, 1.50, 12.5), (3.16, 2.05, 12.7),
    (3.18, 2.80, 13.3), (3.20, 1.25, 12.5), (3.22, 2.30, 12.9), (3.24, 1.65, 12.7), (3.26, 2.55, 13.1),
    (3.28, 1.95, 12.8), (3.30, 1.40, 12.6), (3.32, 2.75, 13.3), (3.34, 2.15, 12.9), (3.36, 1.20, 12.6),
    (3.38, 2.45, 13.1), (3.40, 1.75, 12.8), (3.42, 2.65, 13.2), (3.44, 1.45, 12.8), (3.46, 1.05, 12.7),
    (3.48, 2.30, 13.1), (3.49, 1.85, 12.9), (3.49, 2.60, 13.2), (3.44, 2.85, 13.3), (3.10, 2.95, 13.8),
    (3.20, 2.97, 13.7), (2.90, 2.97, 13.9), (3.00, 2.95, 13.9), (3.30, 2.95, 13.4), (3.40, 2.96, 13.3),
    (2.95, 2.88, 13.8), (3.06, 2.90, 13.7), (3.16, 2.88, 13.6), (3.26, 2.86, 13.5), (2.82, 2.80, 13.8),
    (2.78, 2.70, 13.7), (2.70, 2.62, 13.6), (2.64, 2.52, 13.5), (2.58, 2.42, 13.4), (2.90, 2.85, 13.7),
    (3.00, 2.80, 13.6), (2.86, 2.60, 13.4),
]

# observations: (x, y, x_low, x_high, y_low, y_high)
ALPINE = [
    (1.43, 1.00, 1.02, 1.85, 0.62, 1.38), (1.64, 1.09, 1.28, 2.02, 0.80, 1.38),
    (1.70, 0.96, 1.35, 2.10, 0.62, 1.25), (1.82, 1.35, 1.45, 2.20, 1.05, 1.75),
    (1.82, 1.14, 1.50, 2.15, 0.75, 1.50), (1.86, 1.00, 1.50, 2.25, 0.70, 1.30),
    (1.91, 1.05, 1.55, 2.30, 0.75, 1.35), (1.93, 0.84, 1.60, 2.30, 0.45, 1.20),
    (1.93, 0.78, 1.62, 2.25, 0.40, 1.10), (1.95, 1.25, 1.58, 2.35, 0.90, 1.60),
    (1.96, 1.31, 1.62, 2.30, 1.00, 1.62), (2.01, 1.46, 1.68, 2.40, 1.10, 1.80),
    (2.01, 0.91, 1.70, 2.35, 0.55, 1.25), (2.05, 0.85, 1.72, 2.40, 0.50, 1.15),
    (2.09, 1.24, 1.75, 2.45, 0.95, 1.55), (2.11, 0.91, 1.78, 2.45, 0.55, 1.25),
    (2.12, 0.96, 1.80, 2.50, 0.60, 1.30), (2.21, 1.11, 1.88, 2.50, 0.82, 1.40),
    (2.43, 1.19, 2.05, 2.85, 0.80, 1.60), (2.50, 1.23, 2.10, 2.95, 0.95, 1.55),
    (2.96, 0.62, 2.83, 3.15, 0.30, 0.92),
]
REBELS = [
    (1.38, 0.83, 1.15, 1.52, 0.45, 1.20), (1.46, 1.04, 1.25, 1.78, 0.70, 1.38),
    (1.51, 1.13, 1.30, 1.80, 0.75, 1.50), (1.52, 1.01, 1.28, 1.75, 0.60, 1.35),
    (1.52, 0.95, 1.30, 1.72, 0.55, 1.30), (1.55, 1.22, 1.32, 1.85, 0.85, 1.60),
    (1.86, 1.27, 1.60, 2.10, 0.90, 1.60), (1.87, 0.81, 1.55, 2.15, 0.40, 1.15),
    (1.91, 1.27, 1.68, 2.20, 0.95, 1.60), (1.92, 1.04, 1.65, 2.20, 0.70, 1.35),
    (1.95, 1.08, 1.70, 2.25, 0.75, 1.40), (2.06, 1.30, 1.80, 2.25, 0.95, 1.70),
    (2.48, 0.95, 2.20, 2.60, 0.55, 1.30),
]

W, H = 377, 199
MAJOR = "abs(datum.value * 2 - round(datum.value * 2)) < 0.001"
TICK_SIZE = {"condition": {"test": MAJOR, "value": 9}, "value": 5}
LABEL_EXPR = f"{MAJOR} ? format(datum.value, '.1f') : ''"
ONE = pd.DataFrame({"k": [0]})

COLOR_SCALE = alt.Scale(scheme="plasma", reverse=True, domain=[10, 14])
COLORBAR = alt.Legend(
    orient="none", legendX=828, legendY=-2, direction="vertical", title=None,
    gradientLength=462, gradientThickness=10, values=CBAR_TICKS, format=".1f",
    labelFont=FONT, labelFontSize=15.5, labelColor="#1a1a1a", labelOffset=8,
    gradientStrokeColor="#333333", gradientStrokeWidth=0.8,
)
X_SCALE = alt.Scale(domain=X_DOMAIN, nice=False, zero=False)
Y_SCALE = alt.Scale(domain=Y_DOMAIN, nice=False, zero=False)


def x_axis():
    return alt.Axis(values=X_TICKS, labelExpr=LABEL_EXPR, tickSize=TICK_SIZE, tickColor="black",
                    tickWidth=1.1, domain=False, offset=-3, labelFont=FONT, labelFontSize=15.5,
                    labelColor="#1a1a1a", labelPadding=2, labelFlush=False, labelOverlap=False,
                    labelBound=False, grid=False, zindex=1, title=None)


def y_axis(labels):
    return alt.Axis(values=Y_TICKS, labelExpr=LABEL_EXPR, tickSize=TICK_SIZE, tickColor="black",
                    tickWidth=1.1, domain=False, offset=-3, labels=labels, labelFont=FONT,
                    labelFontSize=15.5, labelColor="#1a1a1a", labelPadding=2, labelFlush=False,
                    labelOverlap=False, labelBound=False, grid=False, zindex=1, title=None)


def text_at(text, x, y, size=17, align="left", font=FONT, style="normal", angle=0):
    return alt.Chart(ONE).mark_text(
        text=text, font=font, fontSize=size, align=align, baseline="middle",
        fontStyle=style, color="#1a1a1a", angle=angle,
    ).encode(x=alt.value(x), y=alt.value(y))


def panel(groups, curve, title, label, obs=None, obs_name=None, y_labels=True, extras=()):
    xa, ya = x_axis(), y_axis(y_labels)

    def X(field):
        return alt.X(field, type="quantitative", scale=X_SCALE, axis=xa)

    def Y(field):
        return alt.Y(field, type="quantitative", scale=Y_SCALE, axis=ya)

    pts = pd.DataFrame([p for g in groups for p in g], columns=["x", "y", "m"])
    dots = alt.Chart(pts).mark_circle(size=30, opacity=0.95, clip=True).encode(
        x=X("x"), y=Y("y"),
        color=alt.Color("m:Q", scale=COLOR_SCALE, legend=COLORBAR),
    )
    line = alt.Chart(pd.DataFrame({"x": CURVE_X, "y": curve})).mark_line(
        color="black", strokeWidth=1.3, interpolate="monotone", clip=True
    ).encode(x=X("x"), y=Y("y"))
    layers = [dots, line]
    if obs is not None:
        od = pd.DataFrame(obs, columns=["x", "y", "xlo", "xhi", "ylo", "yhi"])
        base = alt.Chart(od)
        layers += [
            base.mark_rule(color=TEAL, strokeWidth=1.3, opacity=0.55, clip=True).encode(
                x=X("xlo"), x2="xhi", y=Y("y")),
            base.mark_rule(color=TEAL, strokeWidth=1.3, opacity=0.55, clip=True).encode(
                x=X("x"), y=Y("ylo"), y2="yhi"),
            base.mark_square(color=TEAL, size=45, opacity=1).encode(x=X("x"), y=Y("y")),
            alt.Chart(ONE).mark_rule(color=TEAL, strokeWidth=1.3, opacity=0.6).encode(
                x=alt.value(25), x2=alt.value(45), y=alt.value(24)),
            alt.Chart(ONE).mark_rule(color=TEAL, strokeWidth=1.3, opacity=0.6).encode(
                x=alt.value(35), y=alt.value(18), y2=alt.value(30)),
            alt.Chart(ONE).mark_square(color=TEAL, size=45, opacity=1).encode(
                x=alt.value(35), y=alt.value(24)),
            text_at(obs_name, 54, 24),
        ]
    layers.append(text_at(label, 23, 48))
    layers.append(text_at(title, W / 2, -11, size=18, align="center"))
    layers += list(extras)
    return alt.layer(*layers).properties(width=W, height=H)


header = [
    text_at("A&A proofs:", 399, -60, size=19.5, align="right", font=SERIF, style="italic"),
    text_at("manuscript no. aanda", 403, -60, size=16.5, font=SERIF),
]
cbar_title = [text_at(CBAR_TITLE, 487, 228, size=22, align="center", angle=270)]
axis_titles = [
    text_at(Y_TITLE, -60, -64, size=22, align="center", angle=270),
    text_at(X_TITLE, 425, 242, size=22, align="center"),
]

pa = panel([A_EDGE, A_BAND, A_FILL, A_SPREAD], CURVE_A, PANEL_TITLES[0], PANEL_LABELS[0],
           obs=ALPINE, obs_name="ALPINE", extras=header)
pb = panel([B_EDGE, B_BAND, B_FILL, B_SPREAD], CURVE_B, PANEL_TITLES[1], PANEL_LABELS[1],
           obs=REBELS, obs_name="REBELS", y_labels=False, extras=cbar_title)
pc = panel([C_EDGE, C_BAND, C_FILL, C_SPREAD], CURVE_C, PANEL_TITLES[2], PANEL_LABELS[2],
           extras=axis_titles)
pd_ = panel([D_EDGE, D_BAND, D_SPREAD], CURVE_D, PANEL_TITLES[3], PANEL_LABELS[3],
            y_labels=False)

chart = alt.concat(
    pa, pb, pc, pd_, columns=2, spacing={"row": 56, "column": 33}, bounds="flush"
).properties(
    padding={"left": 10, "top": 3, "right": 5, "bottom": 5},
    background="white",
).configure_view(
    stroke="#8a8a8a", strokeWidth=1.2
).configure_axis(
    labelOverlap=False, labelBound=False
)

chart.save("out.html", embed_options={"renderer": "svg", "actions": False})
